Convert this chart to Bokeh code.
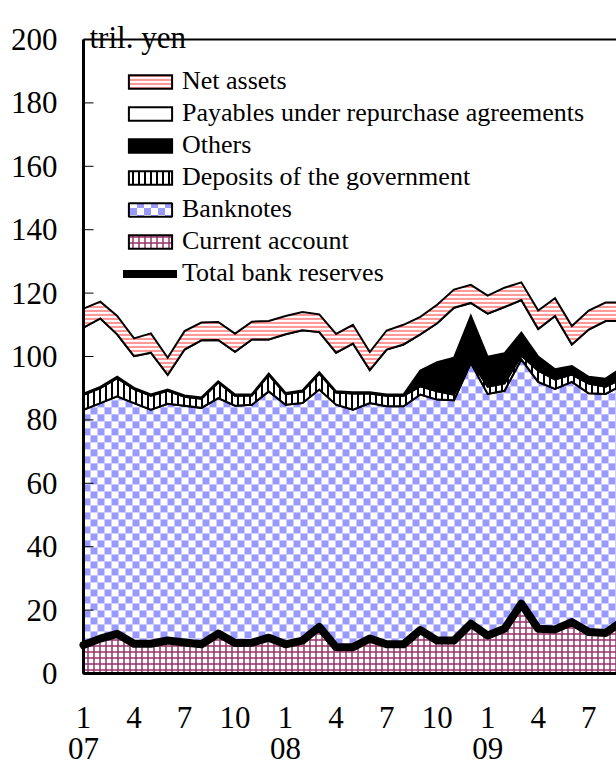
import base64
import struct
import zlib
import numpy as np
from bokeh.plotting import figure
from bokeh.models import (Range1d, Legend, LegendItem, Label, LabelSet,
                          ColumnDataSource, ImageURLTexture)
from bokeh.embed import file_html
from bokeh.resources import INLINE

# monthly index: 0 = Jan 2007
months = list(range(33))

current_account = [9.0, 11.0, 12.5, 9.4, 9.4, 10.4, 9.8, 9.2, 12.6, 9.6, 9.7, 11.3,
                   9.2, 10.4, 14.7, 8.3, 8.3, 11.0, 9.2, 9.2, 13.7, 10.4, 10.4, 15.7,
                   12.0, 14.1, 22.0, 14.1, 13.9, 16.2, 13.1, 12.8, 16.5]
banknotes = [74.2, 74.3, 74.9, 75.9, 73.8, 74.7, 74.7, 74.6, 74.3, 74.9, 75.1, 77.7,
             75.6, 74.9, 74.9, 76.5, 74.9, 74.3, 75.1, 75.1, 74.3, 76.0, 75.8, 82.3,
             76.2, 75.1, 77.1, 77.9, 75.9, 75.8, 75.3, 75.4, 74.5]
deposits_gov = [4.7, 4.7, 5.8, 4.4, 4.4, 4.1, 2.8, 2.9, 4.9, 3.1, 2.9, 5.2,
                3.3, 3.6, 5.0, 3.8, 5.1, 3.0, 3.3, 3.3, 2.6, 2.6, 1.8, 0.8,
                2.3, 2.3, 1.2, 3.5, 3.0, 2.3, 3.1, 2.3, 2.0]
others = [0.4, 0.4, 0.4, 0.4, 0.4, 0.4, 0.4, 0.4, 0.4, 0.4, 0.4, 0.4,
          0.4, 0.4, 0.4, 0.4, 0.4, 0.4, 0.4, 0.4, 5.0, 9.2, 11.6, 14.0,
          9.4, 9.5, 7.2, 4.5, 3.2, 2.7, 2.1, 2.5, 3.5]
payables_repo = [20.8, 21.6, 13.4, 10.0, 13.2, 4.6, 14.5, 18.0, 13.0, 13.5, 17.3, 10.8,
                 18.5, 19.0, 12.7, 12.2, 15.4, 7.0, 14.2, 15.8, 11.4, 12.3, 15.8, 4.1,
                 13.6, 14.6, 10.3, 8.7, 16.8, 6.8, 14.9, 18.2, 14.7]
net_assets = [6.0, 5.3, 5.8, 5.6, 6.1, 5.4, 5.8, 5.6, 5.7, 5.7, 5.6, 5.8,
              5.8, 5.7, 5.6, 5.9, 5.9, 5.7, 6.0, 6.2, 5.5, 5.8, 5.7, 5.7,
              5.7, 6.1, 5.6, 5.8, 5.6, 5.8, 6.0, 5.8, 5.8]
total_reserves = [9.0, 11.0, 12.5, 9.4, 9.4, 10.4, 9.8, 9.2, 12.6, 9.6, 9.7, 11.3,
                  9.2, 10.4, 14.7, 8.3, 8.3, 11.0, 9.2, 9.2, 13.7, 10.4, 10.4, 15.7,
                  12.0, 14.1, 22.0, 14.1, 13.9, 16.2, 13.1, 12.8, 16.5]

x_ticks = [0, 3, 6, 9, 12, 15, 18, 21, 24, 27, 30]
x_tick_labels = ["1", "4", "7", "10", "1", "4", "7", "10", "1", "4", "7"]
year_ticks = [0, 12, 24]
year_labels = ["07", "08", "09"]
y_ticks = [0, 20, 40, 60, 80, 100, 120, 140, 160, 180, 200]
y_tick_labels = [str(v) for v in y_ticks]

FONT = "Liberation Serif"
W, H = 616, 765
LEFT = 83            # pixel column of x=0 (left border)
TOP_200 = 39         # pixel row of y=200
BOT_0 = 673          # pixel row of y=0
PPU = (BOT_0 - TOP_200) / 200.0
X_END = 31.65
PPM = (W - LEFT) / X_END
BLUE = (153, 153, 255)
CHECK = 7

x_start = -LEFT / PPM
y_start = -(H - BOT_0) / PPU
y_end = 200 + TOP_200 / PPU

p = figure(width=W, height=H, x_range=Range1d(x_start, X_END), y_range=Range1d(y_start, y_end),
           output_backend="svg", toolbar_location=None,
           min_border_left=0, min_border_right=0, min_border_top=0, min_border_bottom=0)
p.outline_line_color = None
p.xgrid.visible = False
p.ygrid.visible = False
p.xaxis.visible = False
p.yaxis.visible = False
p.background_fill_color = "white"
p.border_fill_color = "white"

xs = np.array(months, dtype=float)
cum = np.cumsum(np.vstack([current_account, banknotes]), axis=0)
bn_top_max = float(cum[1].max()) + 0.3

# checkerboard texture for banknotes (drawn under the opaque upper layers)
img_w = int(round(X_END * PPM))
img_h = int(round(bn_top_max * PPU))
iy, ix = np.indices((img_h, img_w))
mask = ((ix // CHECK) + (iy // CHECK)) % 2 == 0
blue_u32 = np.uint32(BLUE[0] | (BLUE[1] << 8) | (BLUE[2] << 16) | (255 << 24))
white_u32 = np.uint32(0xFFFFFFFF)
img = np.where(mask, blue_u32, white_u32).astype(np.uint32)
p.image_rgba(image=[img], x=0, y=0, dw=X_END, dh=bn_top_max)


def png_bytes(w, h, rgba_rows):
    raw = b"".join(b"\x00" + r for r in rgba_rows)

    def chunk(t, d):
        c = struct.pack(">I", len(d)) + t + d
        return c + struct.pack(">I", zlib.crc32(t + d) & 0xFFFFFFFF)
    return (b"\x89PNG\r\n\x1a\n" + chunk(b"IHDR", struct.pack(">IIBBBBB", w, h, 8, 6, 0, 0, 0))
            + chunk(b"IDAT", zlib.compress(raw)) + chunk(b"IEND", b""))


rows = []
for r in range(2 * CHECK):
    row = b""
    for c in range(2 * CHECK):
        if ((r // CHECK) + (c // CHECK)) % 2 == 0:
            row += bytes([BLUE[0], BLUE[1], BLUE[2], 255])
        else:
            row += bytes([255, 255, 255, 255])
    rows.append(row)
checker_url = "data:image/png;base64," + base64.b64encode(
    png_bytes(2 * CHECK, 2 * CHECK, rows)).decode()
checker_tex = ImageURLTexture(url=checker_url)

layers = [
    ("Current account", current_account,
     dict(fill_color="white", hatch_pattern="cross", hatch_color="#993366",
          hatch_scale=6, hatch_weight=1.5)),
    ("Banknotes", banknotes, dict(fill_alpha=0)),
    ("Deposits of the government", deposits_gov,
     dict(fill_color="white", hatch_pattern="vertical_line", hatch_color="black",
          hatch_scale=6, hatch_weight=2)),
    ("Others", others, dict(fill_color="black")),
    ("Payables under repurchase agreements", payables_repo, dict(fill_color="white")),
    ("Net assets", net_assets,
     dict(fill_color="white", hatch_pattern="horizontal_line", hatch_color="#ff9999",
          hatch_scale=4, hatch_weight=2.2)),
]

bottom = np.zeros(len(months))
renderers = {}
polys = {}
for name, vals, style in layers:
    top = bottom + np.array(vals)
    px = list(xs) + list(xs[::-1])
    py = list(top) + list(bottom[::-1])
    polys[name] = (px, py)
    r = p.patch(px, py, line_color="black", line_width=2, line_join="miter", **style)
    renderers[name] = r
    bottom = top

line_r = p.line(months, total_reserves, line_color="black", line_width=8,
                line_join="round", line_cap="round")

# hidden renderer that only provides the checker swatch in the legend
bpx, bpy = polys["Banknotes"]
bn_swatch = p.patch(bpx, bpy, fill_color="white", hatch_pattern="checker",
                    hatch_extra={"checker": checker_tex}, line_color="black",
                    line_width=2, visible=False)

order = ["Net assets", "Payables under repurchase agreements", "Others",
         "Deposits of the government", "Banknotes", "Current account"]
items = []
for n in order:
    rs = [bn_swatch] if n == "Banknotes" else [renderers[n]]
    items.append(LegendItem(label=n, renderers=rs))
items.append(LegendItem(label="Total bank reserves", renderers=[line_r]))

leg_top = 66
leg_h = 7 * 30 + 6 * 2
legend = Legend(items=items, location=(123, H - leg_top - leg_h), border_line_color=None,
                background_fill_alpha=0, label_text_font=FONT, label_text_font_size="26px",
                label_text_color="black", glyph_width=54, glyph_height=17,
                label_standoff=5, spacing=2, padding=0, margin=0, label_height=30,
                click_policy="none", inactive_fill_alpha=0)
p.add_layout(legend)

# ---- frame: left/bottom/top borders and y ticks ----
y0, y1 = y_ticks[0], y_ticks[-1]
x_last = months[-1]
p.segment(x0=[0], y0=[y0], x1=[0], y1=[y1], line_color="black", line_width=3)
p.segment(x0=[0], y0=[y0], x1=[x_last], y1=[y0], line_color="black", line_width=3)
p.segment(x0=[0], y0=[y1], x1=[x_last], y1=[y1], line_color="black", line_width=2)
p.ray(x=[0] * len(y_ticks), y=y_ticks, length=10, length_units="screen", angle=0,
      line_color="black", line_width=1)

ysrc = ColumnDataSource(dict(x=[0] * len(y_ticks), y=y_ticks, text=y_tick_labels))
p.add_layout(LabelSet(x="x", y="y", text="text", source=ysrc, x_offset=-26,
                      text_align="right", text_baseline="middle",
                      text_font=FONT, text_font_size="31px", text_color="black"))

msrc = ColumnDataSource(dict(x=x_ticks, y=[0] * len(x_ticks), text=x_tick_labels))
p.add_layout(LabelSet(x="x", y="y", text="text", source=msrc, y_offset=-44,
                      text_align="center", text_baseline="middle",
                      text_font=FONT, text_font_size="31px", text_color="black"))
yrsrc = ColumnDataSource(dict(x=year_ticks, y=[0] * len(year_ticks), text=year_labels))
p.add_layout(LabelSet(x="x", y="y", text="text", source=yrsrc, y_offset=-75,
                      text_align="center", text_baseline="middle",
                      text_font=FONT, text_font_size="31px", text_color="black"))

p.add_layout(Label(x=0, y=200, x_offset=6, y_offset=2, text="tril. yen",
                   text_font=FONT, text_font_size="31px", text_color="black",
                   text_baseline="alphabetic"))

open("out.html", "w").write(file_html(p, INLINE))
